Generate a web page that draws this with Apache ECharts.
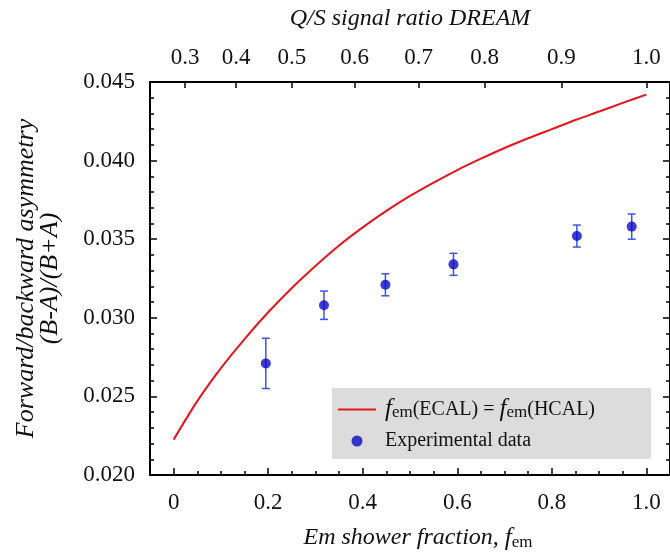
<!DOCTYPE html>
<html>
<head>
<meta charset="utf-8">
<script src="https://cdn.jsdelivr.net/npm/echarts@6/dist/echarts.min.js"></script>
<style>
  html, body { margin: 0; padding: 0; background: #ffffff; }
  #chart { width: 670px; height: 556px; }
</style>
</head>
<body>
<div id="chart"></div>
<script>
// Model curve: asymmetry vs em shower fraction when fem(ECAL) = fem(HCAL)
const modelFem = [0, 0.05, 0.10, 0.15, 0.20, 0.25, 0.30, 0.35, 0.40, 0.45, 0.50,
                  0.55, 0.60, 0.65, 0.70, 0.75, 0.80, 0.85, 0.90, 0.95, 1.00];
const modelAsym = [0.02225, 0.02470, 0.02680, 0.02865, 0.03035, 0.03190, 0.03330,
                   0.03460, 0.03575, 0.03680, 0.03775, 0.03860, 0.03940, 0.04012,
                   0.04080, 0.04142, 0.04200, 0.04258, 0.04312, 0.04367, 0.04420];

// Measured asymmetry with uncertainties
const dataFem = [0.195, 0.318, 0.448, 0.592, 0.853, 0.969];
const dataAsym = [0.0271, 0.0308, 0.0321, 0.0334, 0.0352, 0.0358];
const dataErr = [0.0016, 0.0009, 0.0007, 0.0007, 0.0007, 0.0008];

// Bottom axis ticks
const femTicks = [0, 0.2, 0.4, 0.6, 0.8, 1.0];
const femMinorTicks = [0.05, 0.10, 0.15, 0.25, 0.30, 0.35, 0.45, 0.50, 0.55,
                       0.65, 0.70, 0.75, 0.85, 0.90, 0.95];

// Top axis: Q/S signal ratio labels and where they fall on the fem scale
const qsLabels = ['0.3', '0.4', '0.5', '0.6', '0.7', '0.8', '0.9', '1.0'];
const qsFem = [0.0243, 0.132, 0.250, 0.383, 0.518, 0.658, 0.820, 1.000];

const LINE_NAME = 'fem(ECAL) = fem(HCAL)';
const DATA_NAME = 'Experimental data';

const SERIF = '"Liberation Serif", "Times New Roman", serif';
const TXT = '#111111';

const chart = echarts.init(document.getElementById('chart'));

const modelPoints = modelFem.map((f, i) => [f, modelAsym[i]]);
const dataPoints = dataFem.map((f, i) => [f, dataAsym[i]]);
const errPoints = dataFem.map((f, i) => [f, dataAsym[i] - dataErr[i], dataAsym[i] + dataErr[i]]);

const subRich = {
  n: { fontFamily: SERIF, fontSize: 20, lineHeight: 24, color: TXT },
  f: { fontFamily: SERIF, fontSize: 25, fontStyle: 'italic', lineHeight: 24, color: TXT },
  s: { fontFamily: SERIF, fontSize: 17, lineHeight: 15, verticalAlign: 'bottom', color: TXT }
};

const frameLine = { show: true, onZero: false, lineStyle: { color: '#000', width: 2 } };
const tickStyle = { color: '#000', width: 1.5 };

const option = {
  animation: false,
  backgroundColor: '#ffffff',
  grid: { left: 150, top: 82, width: 521.5, height: 396, containLabel: false },
  legend: {
    orient: 'vertical',
    left: 332,
    top: 388,
    backgroundColor: '#dcdcdc',
    padding: [9, 56, 8, 6],
    itemGap: 9,
    itemWidth: 38,
    itemHeight: 11,
    data: [
      { name: LINE_NAME, icon: 'path://M0,0 L38,0 L38,2 L0,2 Z', itemStyle: { color: '#e8141c' } },
      { name: DATA_NAME, icon: 'circle' }
    ],
    formatter: function (name) {
      if (name === LINE_NAME) {
        return '{f|f}{s|em}{n|(ECAL) = }{f|f}{s|em}{n|(HCAL)}';
      }
      return '{n|' + name + '}';
    },
    textStyle: {
      fontFamily: SERIF, fontSize: 20, color: TXT, padding: [0, 0, 0, 4],
      rich: subRich
    }
  },
  xAxis: [
    {
      type: 'value',
      position: 'bottom',
      min: -0.05,
      max: 1.05,
      name: '{i|Em shower fraction, }{f|f}{s|em}',
      nameLocation: 'middle',
      nameGap: 50,
      nameTextStyle: {
        padding: [0, 0, 0, 16],
        rich: {
          i: { fontFamily: SERIF, fontSize: 24, fontStyle: 'italic', lineHeight: 26, color: TXT },
          f: { fontFamily: SERIF, fontSize: 25, fontStyle: 'italic', lineHeight: 26, color: TXT },
          s: { fontFamily: SERIF, fontSize: 17, lineHeight: 16, verticalAlign: 'bottom', color: TXT }
        }
      },
      axisLine: frameLine,
      axisTick: { show: true, inside: true, length: 7, customValues: femTicks, lineStyle: tickStyle },
      axisLabel: {
        customValues: femTicks,
        margin: 16,
        fontFamily: SERIF, fontSize: 23, color: TXT,
        formatter: v => (Math.abs(v) < 1e-9 ? '0' : v.toFixed(1))
      },
      splitLine: { show: false }
    },
    {
      // minor ticks along the bottom edge
      type: 'value',
      position: 'bottom',
      min: -0.05,
      max: 1.05,
      axisLine: { show: false, onZero: false },
      axisTick: { show: true, inside: true, length: 4, customValues: femMinorTicks, lineStyle: tickStyle },
      axisLabel: { show: false },
      splitLine: { show: false }
    },
    {
      // Q/S signal ratio scale along the top edge
      type: 'value',
      position: 'top',
      min: -0.05,
      max: 1.05,
      name: 'Q/S signal ratio DREAM',
      nameLocation: 'middle',
      nameGap: 51,
      nameTextStyle: { fontFamily: SERIF, fontSize: 24, fontStyle: 'italic', color: TXT },
      axisLine: frameLine,
      axisTick: { show: true, inside: true, length: 6, customValues: qsFem, lineStyle: tickStyle },
      axisLabel: {
        customValues: qsFem,
        margin: 13,
        fontFamily: SERIF, fontSize: 23, color: TXT,
        formatter: function (v) {
          let best = 0;
          for (let i = 1; i < qsFem.length; i++) {
            if (Math.abs(qsFem[i] - v) < Math.abs(qsFem[best] - v)) best = i;
          }
          return qsLabels[best];
        }
      },
      splitLine: { show: false }
    }
  ],
  yAxis: [
    {
      type: 'value',
      position: 'left',
      min: 0.020,
      max: 0.045,
      interval: 0.005,
      name: 'Forward/backward asymmetry\n(B-A)/(B+A)',
      nameLocation: 'middle',
      nameGap: 88,
      nameTextStyle: { fontFamily: SERIF, fontSize: 26, fontStyle: 'italic', lineHeight: 24, color: TXT },
      axisLine: frameLine,
      axisTick: { show: true, inside: true, length: 7, lineStyle: tickStyle },
      minorTick: { show: true, splitNumber: 5, length: 4, lineStyle: tickStyle },
      axisLabel: {
        margin: 15,
        fontFamily: SERIF, fontSize: 23, color: TXT,
        formatter: v => v.toFixed(3)
      },
      splitLine: { show: false },
      minorSplitLine: { show: false }
    },
    {
      type: 'value',
      position: 'right',
      min: 0.020,
      max: 0.045,
      interval: 0.005,
      axisLine: frameLine,
      axisTick: { show: true, inside: true, length: 7, lineStyle: tickStyle },
      minorTick: { show: true, splitNumber: 5, length: 4, lineStyle: tickStyle },
      axisLabel: { show: false },
      splitLine: { show: false }
    }
  ],
  series: [
    {
      name: LINE_NAME,
      type: 'line',
      xAxisIndex: 0,
      yAxisIndex: 0,
      data: modelPoints,
      smooth: 0.3,
      symbol: 'none',
      lineStyle: { color: '#e8141c', width: 2 },
      itemStyle: { color: '#e8141c' },
      z: 3
    },
    {
      name: 'error bars',
      type: 'custom',
      xAxisIndex: 0,
      yAxisIndex: 0,
      data: errPoints,
      renderItem: function (params, api) {
        const x = api.value(0);
        const lo = api.coord([x, api.value(1)]);
        const hi = api.coord([x, api.value(2)]);
        const cap = 4;
        const style = { stroke: '#3d54e0', lineWidth: 1.5, fill: null };
        return {
          type: 'group',
          children: [
            { type: 'line', shape: { x1: lo[0], y1: lo[1], x2: hi[0], y2: hi[1] }, style: style },
            { type: 'line', shape: { x1: lo[0] - cap, y1: lo[1], x2: lo[0] + cap, y2: lo[1] }, style: style },
            { type: 'line', shape: { x1: hi[0] - cap, y1: hi[1], x2: hi[0] + cap, y2: hi[1] }, style: style }
          ]
        };
      },
      encode: { x: 0, y: [1, 2] },
      z: 4
    },
    {
      name: DATA_NAME,
      type: 'scatter',
      xAxisIndex: 0,
      yAxisIndex: 0,
      data: dataPoints,
      symbol: 'circle',
      symbolSize: 10,
      itemStyle: { color: '#0a0ac8' },
      z: 5
    }
  ]
};

chart.setOption(option);
</script>
</body>
</html>
